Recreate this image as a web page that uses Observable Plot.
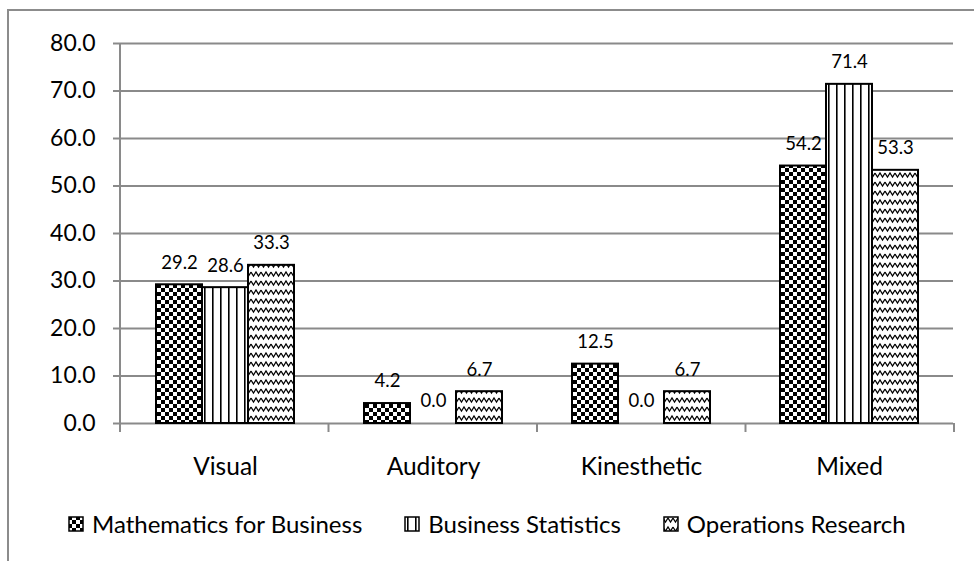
<!DOCTYPE html>
<html>
<head>
<meta charset="utf-8">
<script src="https://cdn.jsdelivr.net/npm/d3@7"></script>
<script src="https://cdn.jsdelivr.net/npm/@observablehq/plot@0.6"></script>
<style>
  html, body { margin: 0; padding: 0; background: #fff; }
  #wrap { position: relative; width: 974px; height: 561px; overflow: hidden; font-family: Lato, "Noto Sans", sans-serif; }
  #border { position: absolute; left: 7px; top: 9px; width: 1100px; height: 700px; border-left: 2px solid #8c8c8c; border-top: 2px solid #8c8c8c; box-sizing: border-box; }
  #chart { position: absolute; left: 0; top: 0; }
  #legend { position: absolute; left: 68px; top: 509px; display: flex; gap: 42px; align-items: center; font-size: 24px; color: #000; white-space: nowrap; }
  .item { display: flex; align-items: center; gap: 8px; }
  .item svg { display: block; }
</style>
</head>
<body>
<svg width="0" height="0" style="position:absolute">
  <defs>
    <pattern id="pat-checker" patternUnits="userSpaceOnUse" width="8" height="8">
      <rect width="8" height="8" fill="#fff"/>
      <rect x="0" y="0" width="4" height="4" fill="#000"/>
      <rect x="4" y="4" width="4" height="4" fill="#000"/>
    </pattern>
    <pattern id="pat-vlines" patternUnits="userSpaceOnUse" width="8" height="8">
      <rect width="8" height="8" fill="#fff"/>
      <rect x="3" y="0" width="1.6" height="8" fill="#000"/>
    </pattern>
    <pattern id="pat-zigzag" patternUnits="userSpaceOnUse" width="10" height="9">
      <rect width="10" height="9" fill="#fff"/>
      <path d="M0,2 L2.5,6 L5,2 L7.5,6 L10,2" fill="none" stroke="#000" stroke-width="1.25"/>
    </pattern>
  </defs>
</svg>
<div id="wrap">
  <div id="border"></div>
  <div id="chart"></div>
  <div id="legend"></div>
</div>
<script>
const categories = ["Visual", "Auditory", "Kinesthetic", "Mixed"];
const seriesNames = ["Mathematics for Business", "Business Statistics", "Operations Research"];
const mathForBusiness = [29.2, 4.2, 12.5, 54.2];
const businessStatistics = [28.6, 0.0, 0.0, 71.4];
const operationsResearch = [33.3, 6.7, 6.7, 53.3];
const yTicks = [0, 10, 20, 30, 40, 50, 60, 70, 80];
const patternFills = ["url(#pat-checker)", "url(#pat-vlines)", "url(#pat-zigzag)"];

const seriesValues = [mathForBusiness, businessStatistics, operationsResearch];
const data = categories.flatMap((c, i) =>
  seriesNames.map((s, j) => ({category: c, series: s, value: seriesValues[j][i]}))
);
const fmt = d3.format(".1f");
const gridColor = "#8a8a8a";

const plot = Plot.plot({
  width: 974,
  height: 480,
  marginLeft: 120,
  marginRight: 20,
  marginTop: 43,
  marginBottom: 57,
  style: {fontFamily: "Lato, 'Noto Sans', sans-serif", background: "transparent", color: "#000"},
  fx: {domain: categories, padding: 0, label: null},
  x: {domain: seriesNames, paddingInner: 0, paddingOuter: 0.72, axis: null},
  y: {domain: [0, 80], label: null},
  color: {type: "ordinal", domain: seriesNames, range: patternFills},
  marks: [
    Plot.gridY(yTicks, {stroke: gridColor, strokeOpacity: 1, strokeWidth: 2}),
    Plot.axisY(yTicks, {tickSize: 8, tickPadding: 18, tickFormat: fmt, fontSize: 23, stroke: gridColor, strokeWidth: 2, fill: "#000", label: null}),
    Plot.axisFx({anchor: "bottom", tickSize: 0, tickPadding: 34, fontSize: 24.5, fill: "#000", label: null}),
    Plot.barY(data.filter(d => d.value > 0), {fx: "category", x: "series", y: "value", fill: "series", stroke: "#000", strokeWidth: 2}),
    Plot.text(data, {fx: "category", x: "series", y: "value", text: d => fmt(d.value), dy: -22, fontSize: 18.5, fill: "#000"})
  ]
});

// y-axis line and category boundary ticks derived from the plot's scales
const fxS = plot.scale("fx");
const yS = plot.scale("y");
const svg = d3.select(plot.tagName === "svg" ? plot : plot.querySelector("svg"));
const x0 = fxS.range[0], x1 = fxS.range[1];
const step = (x1 - x0) / fxS.domain.length;
const yBase = yS.apply(0), yTop = yS.apply(80);
const g = svg.append("g").attr("stroke", gridColor).attr("stroke-width", 2);
g.append("line").attr("x1", x0).attr("x2", x0).attr("y1", yTop).attr("y2", yBase + 9);
d3.range(1, fxS.domain.length + 1).forEach(i => {
  const x = x0 + i * step;
  g.append("line").attr("x1", x).attr("x2", x).attr("y1", yBase).attr("y2", yBase + 9);
});
document.getElementById("chart").appendChild(plot);

// legend
const legend = d3.select("#legend");
seriesNames.forEach((s, j) => {
  const item = legend.append("div").attr("class", "item");
  const sw = item.append("svg").attr("width", 16).attr("height", 16);
  sw.append("rect").attr("x", 1).attr("y", 1).attr("width", 14).attr("height", 14)
    .attr("fill", patternFills[j]).attr("stroke", "#000").attr("stroke-width", 1.5);
  item.append("span").text(s);
});
</script>
</body>
</html>
